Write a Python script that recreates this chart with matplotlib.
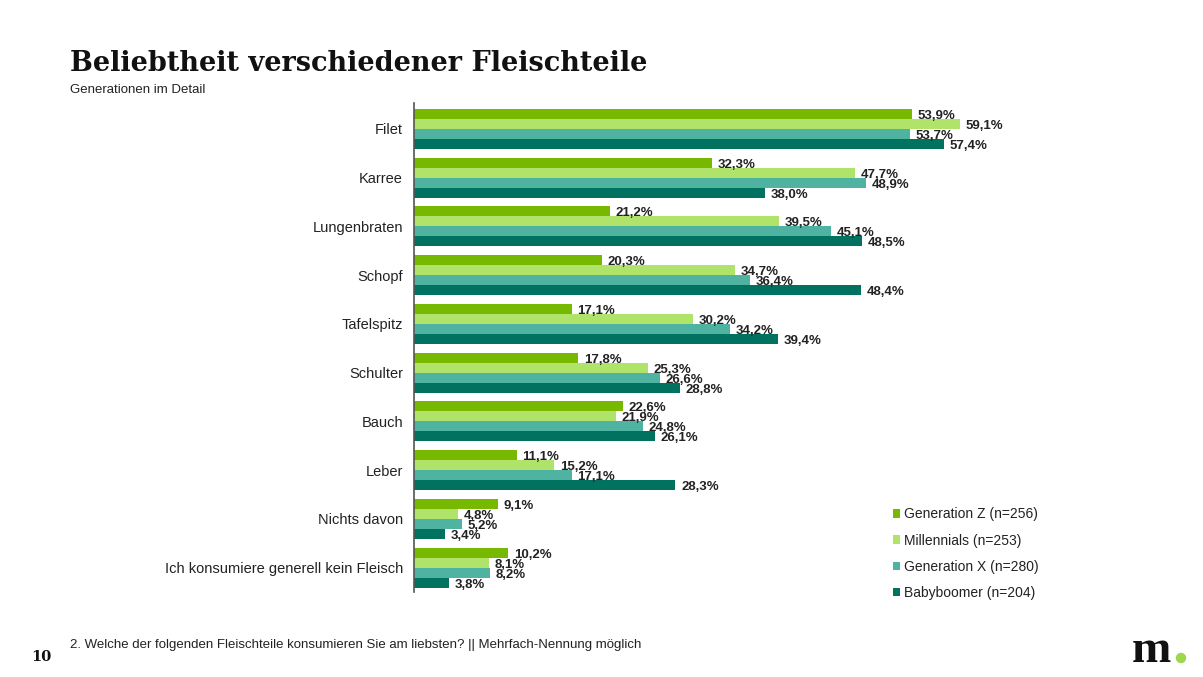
import matplotlib
matplotlib.use("Agg")
import matplotlib.pyplot as plt
from matplotlib import font_manager
from matplotlib.patches import Ellipse
import numpy as np

categories = ["Filet", "Karree", "Lungenbraten", "Schopf", "Tafelspitz", "Schulter",
              "Bauch", "Leber", "Nichts davon", "Ich konsumiere generell kein Fleisch"]
gen_z = [53.9, 32.3, 21.2, 20.3, 17.1, 17.8, 22.6, 11.1, 9.1, 10.2]
millennials = [59.1, 47.7, 39.5, 34.7, 30.2, 25.3, 21.9, 15.2, 4.8, 8.1]
gen_x = [53.7, 48.9, 45.1, 36.4, 34.2, 26.6, 24.8, 17.1, 5.2, 8.2]
boomer = [57.4, 38.0, 48.5, 48.4, 39.4, 28.8, 26.1, 28.3, 3.4, 3.8]
series_names = ["Generation Z (n=256)", "Millennials (n=253)",
                "Generation X (n=280)", "Babyboomer (n=204)"]
colors = ["#76B900", "#B0E36A", "#4FB3A2", "#00725F"]

names = {f.name for f in font_manager.fontManager.ttflist}
narrow = "Liberation Sans Narrow" if "Liberation Sans Narrow" in names else "Liberation Sans"

fig = plt.figure(figsize=(12.03, 6.77), dpi=100)
ax = fig.add_axes([414/1203, 1-592/677, (1050-414)/1203, (592-103)/677])

series = [gen_z, millennials, gen_x, boomer]
h = 0.205
y = np.arange(len(categories))
for i, (vals, c, nm) in enumerate(zip(series, colors, series_names)):
    ypos = y + (i - 1.5) * h
    ax.barh(ypos, vals, height=h, color=c, label=nm)
    for yy, v in zip(ypos, vals):
        ax.annotate(f"{v:.1f}%".replace(".", ","), (v, yy), xytext=(4, -1.5),
                    textcoords="offset points", ha="left", va="center",
                    fontsize=9.5, fontweight="bold", family=[narrow, "DejaVu Sans"],
                    color="#222222")

ax.set_xlim(0, (1050-414)/9.24)
ax.set_ylim(9.5, -0.53)
ax.set_yticks(y)
ax.set_yticklabels(categories, fontsize=10.5, family="Liberation Sans", color="#222222")
ax.tick_params(axis="y", length=0, pad=8)
ax.set_xticks([])
for s in ["top", "right", "bottom"]:
    ax.spines[s].set_visible(False)
ax.spines["left"].set_color("#555555")
ax.spines["left"].set_linewidth(1.2)

leg = ax.legend(loc="lower left", bbox_to_anchor=((880-414)/636, -0.042), frameon=False,
                prop={"family": "Liberation Sans", "size": 10}, handlelength=0.55,
                handleheight=0.55, handletextpad=0.25, labelspacing=0.88)
for t in leg.get_texts():
    t.set_color("#222222")

fig.text(70/1203, 1-71/677, "Beliebtheit verschiedener Fleischteile", fontsize=19.5,
         fontweight="bold", family="DejaVu Serif", va="baseline", color="#111111")
fig.text(70/1203, 1-90/677, "Generationen im Detail", fontsize=9.5,
         family="Liberation Sans", va="center", color="#222222")
fig.text(70/1203, 1-645/677,
         "2. Welche der folgenden Fleischteile konsumieren Sie am liebsten? || Mehrfach-Nennung möglich",
         fontsize=9.5, family="Liberation Sans", va="center", color="#222222")
fig.text(31/1203, 1-657/677, "10", fontsize=10.5, fontweight="bold",
         family="DejaVu Serif", va="center", color="#111111")
fig.text(1132/1203, 1-662/677, "m", fontsize=34, fontweight="bold",
         family="Liberation Serif", va="baseline", color="#111111")
fig.add_artist(Ellipse((1181/1203, 1-658/677), 9/1203, 9/677,
                       transform=fig.transFigure, color="#9BD84A"))

fig.savefig("out.png", dpi=100)
